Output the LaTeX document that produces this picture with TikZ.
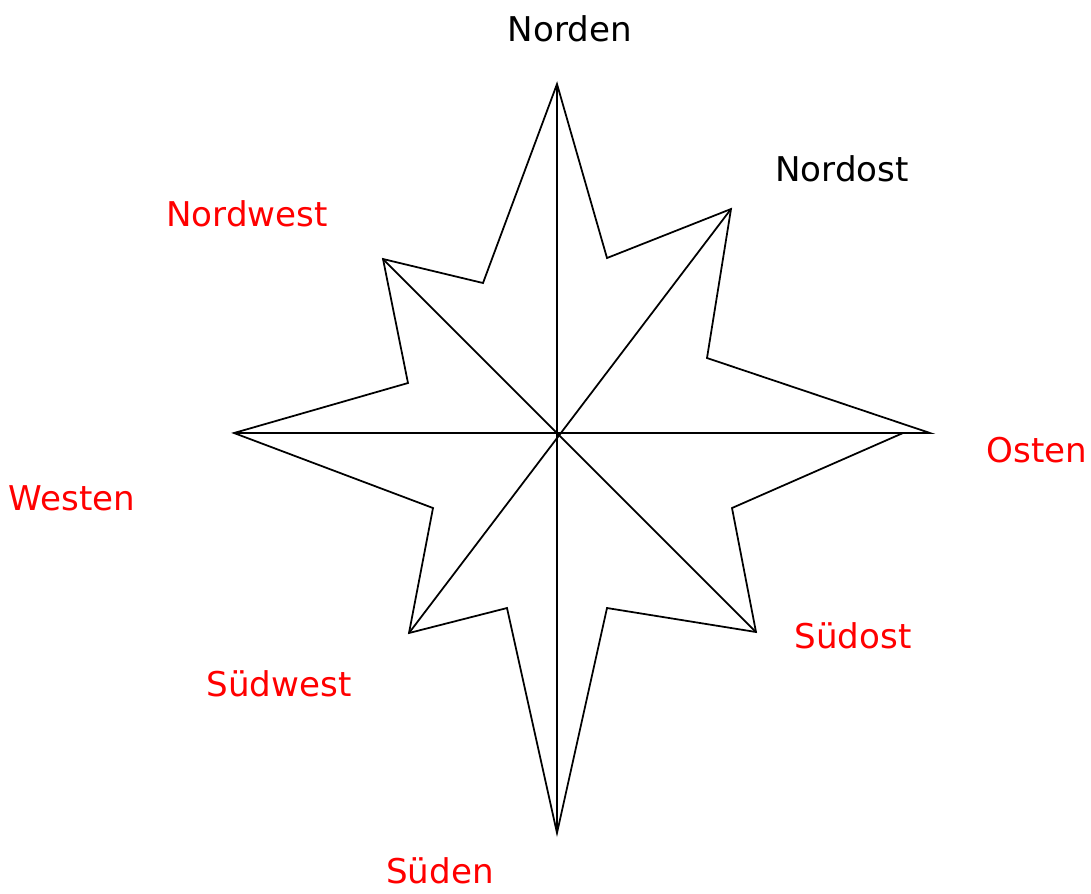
\documentclass[tikz,border=0pt]{standalone}
\usepackage{fontspec}
\setmainfont{DejaVu Sans}
\usepackage{xcolor}
\usepackage{tikz}

\begin{document}
\begin{tikzpicture}[x=0.01cm,y=-0.01cm,
    star/.style={line width=0.5pt,line join=miter},
    lbl/.style={font=\fontsize{9.7}{11}\selectfont,anchor=base}]
  \useasboundingbox (0,0) rectangle (1091,893);
  % Centre and tips
  \coordinate (C)  at (557,433);
  \coordinate (N)  at (557,84);
  \coordinate (NE) at (731,209);
  \coordinate (E)  at (930,433);
  \coordinate (SE) at (756,632);
  \coordinate (S)  at (557,833);
  \coordinate (SW) at (409,633);
  \coordinate (W)  at (234,433);
  \coordinate (NW) at (383,259);
  % Outline
  \draw[star] (N) -- (607,258) -- (NE) -- (707,358) -- (E) -- (903,433)
    -- (732,508) -- (SE) -- (607,608) -- (S) -- (507,608) -- (SW)
    -- (433,508) -- (W) -- (408,383) -- (NW) -- (483,283) -- cycle;
  % Spokes
  \draw[star] (N) -- (S);
  \draw[star] (W) -- (E);
  \draw[star] (NE) -- (SW);
  \draw[star] (NW) -- (SE);
  % Labels
  \node[lbl] (norden)   at (570,41)  {Norden};
  \node[lbl] (nordost)  at (842,181) {Nordost};
  \node[lbl,red] (osten)    at (1037,462) {Osten};
  \node[lbl,red] (suedost)  at (853,648) {Südost};
  \node[lbl,red] (sueden)   at (440,883) {Süden};
  \node[lbl,red] (suedwest) at (279,696) {Südwest};
  \node[lbl,red] (westen)   at (72,510)  {Westen};
  \node[lbl,red] (nordwest) at (247,226) {Nordwest};
\end{tikzpicture}
\end{document}
